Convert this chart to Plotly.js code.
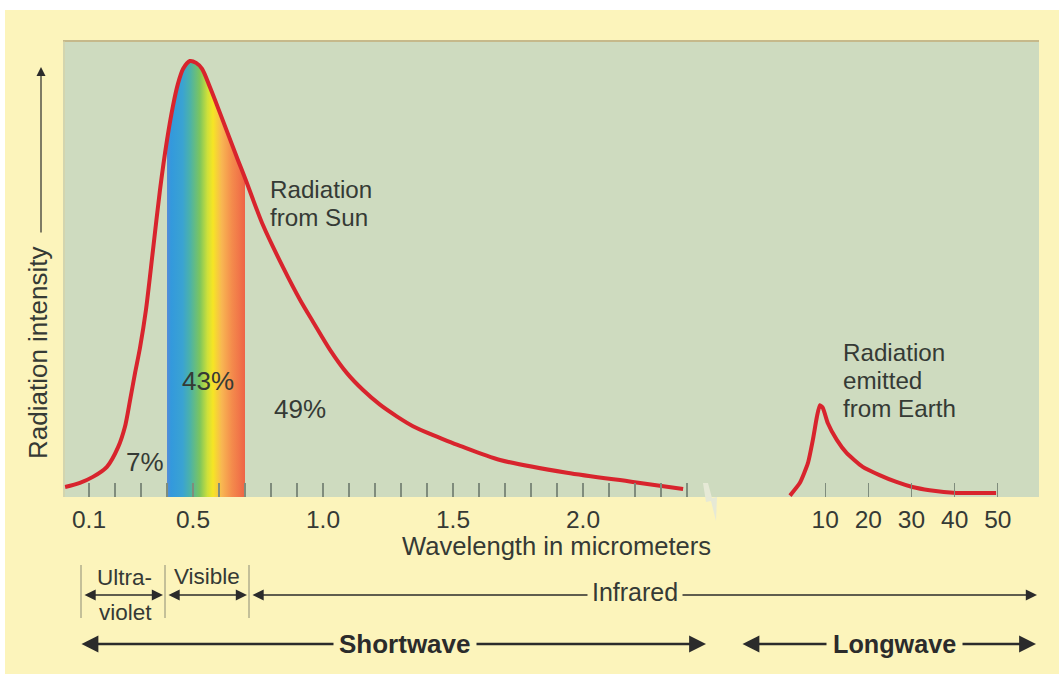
<!DOCTYPE html>
<html><head><meta charset="utf-8">
<script src="https://cdn.plot.ly/plotly-3.0.1.min.js"></script>
<style>html,body{margin:0;padding:0;background:#fff;} #chart{width:1059px;height:674px;}</style>
</head><body><div id="chart"></div>
<script>
// ---------------- data ----------------
const sunWavelength = [0.008, 0.065, 0.115, 0.169, 0.212, 0.238, 0.258, 0.277, 0.296, 0.319, 0.346, 0.373, 0.4, 0.423, 0.442, 0.462, 0.488, 0.512, 0.535, 0.565, 0.604, 0.673, 0.7, 0.769, 0.846, 0.912, 0.962, 1.027, 1.092, 1.154, 1.219, 1.285, 1.346, 1.412, 1.477, 1.527, 1.681, 1.938, 2.192, 2.385];
const sunIntensity  = [2.2, 3.1, 4.4, 6.6, 10.9, 15.3, 21.2, 27.1, 32.6, 40.9, 54.0, 67.2, 78.1, 85.6, 90.4, 93.7, 95.4, 95.0, 93.7, 89.7, 84.0, 73.7, 69.8, 59.5, 50.3, 43.1, 38.3, 32.2, 27.1, 23.4, 20.2, 17.6, 15.5, 13.8, 12.3, 11.2, 8.1, 5.3, 3.3, 1.75];
const earthWavelength = [1.85, 4.15, 6.0, 7.15, 8.08, 8.77, 9.46, 10.6, 12.7, 15.0, 18.7, 22.6, 26.5, 30.2, 34.2, 40.4, 49.6];
const earthIntensity  = [0.3, 3.1, 7.4, 12.5, 17.5, 20.1, 19.5, 16.2, 12.5, 9.6, 6.6, 4.8, 3.3, 2.2, 1.5, 0.9, 0.9];
const shortTickVals   = [0.1, 0.5, 1.0, 1.5, 2.0];
const shortTickLabels = ['0.1', '0.5', '1.0', '1.5', '2.0'];
const longTickVals    = [10, 20, 30, 40, 50];
const longTickLabels  = ['10', '20', '30', '40', '50'];
const visibleBand     = [0.4, 0.7];
const bandShares      = ['7%', '43%', '49%'];

// ---------------- helpers: pixel -> paper ----------------
const L = 63, T = 40, R = 21, B = 177, W = 1059, H = 674;
const PW = W - L - R, PH = H - T - B;
const px = p => (p - L) / PW;
const py = p => (T + PH - p) / PH;

const TXT = '#353a35';
const FONT = '"Liberation Sans", Arial, Helvetica, sans-serif';

// tick positions for the short-wave axis (every 0.1 up to 2.4)
const shortTicks = [], shortText = [];
for (let i = 1; i <= 24; i++) {
  const v = +(i * 0.1).toFixed(1);
  shortTicks.push(v);
  const k = shortTickVals.findIndex(t => Math.abs(t - v) < 1e-9);
  shortText.push(k >= 0 ? shortTickLabels[k] : '');
}

// spectrum part of the sun curve
const specX = [], specY = [];
sunWavelength.forEach((x, i) => { if (x >= visibleBand[0] && x <= visibleBand[1]) { specX.push(x); specY.push(sunIntensity[i]); } });

const traces = [
  { x: specX, y: specY, xaxis: 'x', yaxis: 'y', mode: 'lines', line: { width: 0, shape: 'spline', smoothing: 0.8 },
    fill: 'tozeroy',
    fillgradient: { type: 'horizontal', start: visibleBand[0], stop: visibleBand[1],
      colorscale: [[0, '#5a8ad6'], [0.05, '#3399dd'], [0.2, '#3aa3d2'], [0.3, '#4db3a6'], [0.42, '#7cc55e'],
                   [0.52, '#cfe03a'], [0.59, '#f6e524'], [0.7, '#f8b752'], [0.83, '#f48c4c'], [1, '#ee6446']] },
    hoverinfo: 'skip', showlegend: false },
  { x: sunWavelength, y: sunIntensity, xaxis: 'x', yaxis: 'y', mode: 'lines',
    line: { color: '#d8242d', width: 4, shape: 'spline', smoothing: 0.8 }, showlegend: false },
  { x: earthWavelength, y: earthIntensity, xaxis: 'x2', yaxis: 'y', mode: 'lines',
    line: { color: '#d8242d', width: 4, shape: 'spline', smoothing: 0.5 }, showlegend: false }
];

function textAnn(text, x, y, size, o) {
  return Object.assign({ xref: 'paper', yref: 'paper', x: px(x), y: py(y), text: text, showarrow: false,
    xanchor: 'center', yanchor: 'middle', font: { size: size, color: TXT, family: FONT } }, o || {});
}
// multi-line block: line pitch = 1.3 * base size, glyphs drawn at `size`
function blockAnn(lines, x, yMid, pitch, size) {
  const t = lines.map(s => '<span style="font-size:' + size + 'px">' + s + '</span>').join('<br>');
  return textAnn(t, x, yMid, pitch / 1.3, { xanchor: 'left', align: 'left' });
}
function arrowAnn(x0, y0, x1, y1, w, s, side) {
  return { xref: 'paper', yref: 'paper', x: px(x1), y: py(y1), axref: 'pixel', ayref: 'pixel',
    ax: x0 - x1, ay: y0 - y1, text: '', showarrow: true, arrowhead: 2, startarrowhead: 2,
    arrowside: side, arrowwidth: w, arrowsize: s, startarrowsize: s, arrowcolor: '#2b2b2b',
    standoff: 0, startstandoff: 0 };
}
const YEL = '#fcf4bb';

const annotations = [
  blockAnn(['Radiation', 'from Sun'], 268, 203, 28, 24.2),
  blockAnn(['Radiation', 'emitted', 'from Earth'], 841, 380, 28, 24.2),
  textAnn(bandShares[1], 208, 381, 26),
  textAnn(bandShares[2], 300, 409, 26),
  textAnn(bandShares[0], 145, 462, 26),
  textAnn('Wavelength in micrometers', 556, 546, 25.6),
  textAnn('Radiation intensity', 38, 353, 26, { textangle: -90 }),
  arrowAnn(41, 234, 41, 67, 1.2, 1.5, 'end'),
  arrowAnn(83, 595, 163, 595, 1.6, 1.4, 'end+start'),
  arrowAnn(167, 595, 247, 595, 1.6, 1.4, 'end+start'),
  arrowAnn(251, 595, 1037, 595, 1.6, 1.4, 'end+start'),
  arrowAnn(80, 644, 706, 644, 2.6, 1.3, 'end+start'),
  arrowAnn(741, 644, 1036, 644, 2.6, 1.3, 'end+start'),
  textAnn('Ultra-', 124, 577, 22.5),
  textAnn('violet', 125, 612, 22.5),
  textAnn('Visible', 207, 576, 22.5),
  textAnn('Infrared', 635, 592, 25, { bgcolor: YEL, borderpad: 4 }),
  textAnn('<b>Shortwave</b>', 405, 644, 26, { bgcolor: YEL, borderpad: 5, font: { size: 26, color: '#2b2b2b', family: FONT } }),
  textAnn('<b>Longwave</b>', 894, 644, 25.2, { bgcolor: YEL, borderpad: 6, font: { size: 25.2, color: '#2b2b2b', family: FONT } })
];

function rectPx(x0, y0, x1, y1, fill) {
  return { type: 'rect', xref: 'paper', yref: 'paper', x0: px(x0), x1: px(x1), y0: py(y1), y1: py(y0),
    fillcolor: fill, line: { width: 0 }, layer: 'below' };
}
function linePx(x0, y0, x1, y1, color, w) {
  return { type: 'line', xref: 'paper', yref: 'paper', x0: px(x0), x1: px(x1), y0: py(y0), y1: py(y1),
    line: { color: color, width: w }, layer: 'above' };
}
function pathPx(pts, fill) {
  const d = pts.map((p, i) => (i ? 'L' : 'M') + px(p[0]).toFixed(5) + ',' + py(p[1]).toFixed(5)).join(' ') + ' Z';
  return { type: 'path', xref: 'paper', yref: 'paper', path: d, fillcolor: fill, line: { width: 0 }, layer: 'above' };
}

const shapes = [
  rectPx(5, 10, 1059, 674, YEL),
  rectPx(63, 40, 1039, 497, '#cedbbf'),
  linePx(63, 41, 1039, 41, '#c6b98a', 2),
  linePx(64, 41, 64, 497, '#d8cf9e', 1),
  linePx(81, 565, 81, 618, '#8c8c76', 1),
  linePx(165, 565, 165, 618, '#8c8c76', 1),
  linePx(249, 565, 249, 618, '#8c8c76', 1),
  pathPx([[703, 483], [708, 483], [712, 498], [717, 497], [716, 521], [711, 501], [706, 502]], '#e6e9d6')
];

const tickStyle = { ticks: 'inside', ticklen: 14, tickwidth: 1.2, tickcolor: '#7f8c7c',
  showgrid: false, zeroline: false, showline: false, tickfont: { size: 24.5, color: TXT, family: FONT },
  ticklabelstandoff: 5, fixedrange: true };

const layout = {
  width: W, height: H, autosize: false,
  margin: { l: L, r: R, t: T, b: B, pad: 0 },
  paper_bgcolor: '#ffffff', plot_bgcolor: 'rgba(0,0,0,0)',
  font: { family: FONT, color: TXT },
  showlegend: false, hovermode: false,
  xaxis: Object.assign({ domain: [0, 1], range: [0, PW / 260], tickvals: shortTicks, ticktext: shortText }, tickStyle),
  xaxis2: Object.assign({ domain: [(782 - L) / PW, 1], anchor: 'y', range: [0, (1039 - 782) / 4.333],
    tickvals: longTickVals, ticktext: longTickLabels }, tickStyle),
  yaxis: { range: [0, 100], showticklabels: false, showgrid: false, zeroline: false, showline: false, ticks: '', fixedrange: true },
  shapes: shapes,
  annotations: annotations
};

Plotly.newPlot('chart', traces, layout, { staticPlot: true, displayModeBar: false });
</script>
</body></html>
